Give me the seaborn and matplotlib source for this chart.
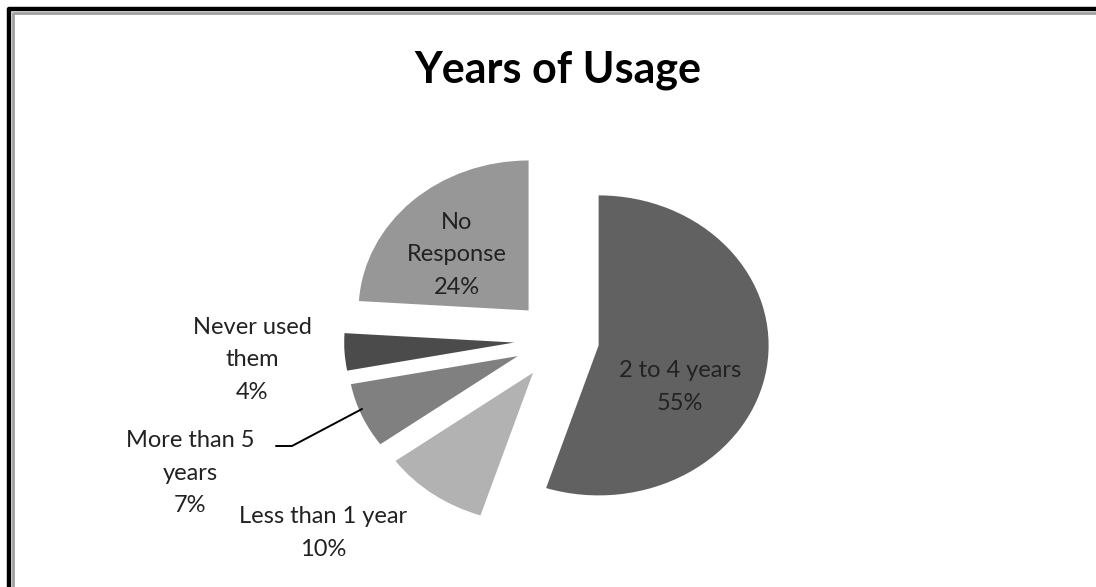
import numpy as np
import matplotlib
matplotlib.use("Agg")
from matplotlib import pyplot as plt
from matplotlib.lines import Line2D
import seaborn as sns

# data
categories = ["2 to 4 years", "Less than 1 year", "More than 5\nyears", "Never used\nthem", "No\nResponse"]
shares = [55, 10, 7, 4, 24]
slice_colors = ["#616161", "#b2b2b2", "#808080", "#4b4b4b", "#979797"]
explode = [0.23, 0.27, 0.27, 0.27, 0.27]

sns.set_style("white")
plt.rcParams['font.family'] = ['Lato', 'DejaVu Sans']

W, H = 1096, 587
fig = plt.figure(figsize=(W / 100, H / 100), dpi=100)
ax = fig.add_axes([0, 0, 1, 1])

# pie centre / radii in pixels (the original picture is stretched sideways)
cx, cy, rx, ry = 560, 340, 170, 150

def px(x, y):
    return (x - cx) / rx, (cy - y) / ry

wedges, _ = ax.pie(shares, colors=slice_colors, explode=explode, startangle=90,
                   counterclock=False, radius=1, wedgeprops=dict(linewidth=0))
ax.set_aspect('auto')
ax.set_xlim(px(0, 0)[0], px(W, 0)[0])
ax.set_ylim(px(0, H)[1], px(0, 0)[1])
ax.axis('off')

# labels
label_pos = [(680, 387), (323, 533), (190, 473), (252, 360), (457, 255)]
for cat, v, (lx, ly) in zip(categories, shares, label_pos):
    x, y = px(lx, ly)
    ax.text(x, y, f"{cat}\n{v}%", ha='center', va='center', fontsize=17,
            color='#222222', linespacing=1.65)

# leader line for the 7% slice
lx, ly = zip(*[px(276, 446), px(292, 446), px(362, 409)])
ax.plot(lx, ly, color='black', lw=1.4)

fig.text(558 / W, 1 - 70 / H, "Years of Usage", ha='center', va='center',
         fontsize=31, fontweight='bold', color='black')

# outer frame
def fline(xs, ys, color, lw):
    fig.add_artist(Line2D([x / W for x in xs], [1 - y / H for y in ys],
                          color=color, lw=lw, transform=fig.transFigure))

fline([8.5, 8.5, W + 5], [H + 5, 9, 9], 'black', 3.2)
fline([12.5, 12.5, W + 5], [H + 5, 12.5, 12.5], '#a0a0a0', 2)

fig.savefig("out.png", dpi=100)
